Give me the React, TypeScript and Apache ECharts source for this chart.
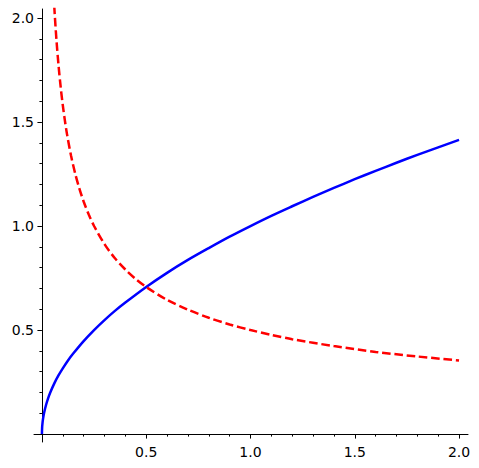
import React, { useEffect, useRef } from "react";
import * as echarts from "echarts";

// Blue solid curve
const blueX = [0, 0.001, 0.003, 0.005, 0.01, 0.02, 0.03, 0.04, 0.06, 0.08, 0.1, 0.125, 0.15, 0.2, 0.25, 0.3, 0.35, 0.4, 0.5, 0.6, 0.7, 0.8, 0.9, 1.0, 1.1, 1.2, 1.3, 1.4, 1.5, 1.6, 1.7, 1.8, 1.9, 2.0];
const blueY = [0, 0.032, 0.055, 0.071, 0.1, 0.141, 0.173, 0.2, 0.245, 0.283, 0.316, 0.354, 0.387, 0.447, 0.5, 0.548, 0.592, 0.632, 0.707, 0.775, 0.837, 0.894, 0.949, 1.0, 1.049, 1.095, 1.14, 1.183, 1.225, 1.265, 1.304, 1.342, 1.378, 1.414];

// Red dashed curve
const redX = [0.05, 0.06, 0.07, 0.08, 0.09, 0.1, 0.11, 0.12, 0.14, 0.16, 0.18, 0.2, 0.225, 0.25, 0.3, 0.35, 0.4, 0.45, 0.5, 0.6, 0.7, 0.8, 0.9, 1.0, 1.1, 1.2, 1.4, 1.6, 1.8, 2.0];
const redY = [2.236, 2.041, 1.89, 1.768, 1.667, 1.581, 1.508, 1.443, 1.336, 1.25, 1.179, 1.118, 1.054, 1.0, 0.913, 0.845, 0.791, 0.745, 0.707, 0.645, 0.598, 0.559, 0.527, 0.5, 0.477, 0.456, 0.423, 0.395, 0.373, 0.354];

// Ticks
const majorTicks = [0, 0.5, 1.0, 1.5, 2.0];
const tickLabels = [0.5, 1.0, 1.5, 2.0];
const minorTicks = [0.1, 0.2, 0.3, 0.4, 0.6, 0.7, 0.8, 0.9, 1.1, 1.2, 1.3, 1.4, 1.6, 1.7, 1.8, 1.9];

const AX_MIN = -0.038;
const AX_MAX = 2.043;

const FONT = "DejaVu Sans";

function makeAxis(kind: "x" | "y", minor: boolean) {
  return {
    type: "value",
    min: AX_MIN,
    max: AX_MAX,
    position: kind === "x" ? "bottom" : "left",
    axisLine: {
      show: !minor,
      onZero: true,
      lineStyle: { color: "#000", width: 1 },
    },
    axisTick: {
      show: true,
      customValues: minor ? minorTicks : majorTicks,
      length: minor ? 2.5 : 4.5,
      lineStyle: { color: "#000", width: 1 },
    },
    axisLabel: {
      show: !minor,
      customValues: tickLabels,
      formatter: (v: number) => v.toFixed(1),
      color: "#000",
      fontFamily: FONT,
      fontWeight: "normal",
      fontSize: 14,
      margin: kind === "x" ? 3 : 0,
    },
    splitLine: { show: false },
    minorTick: { show: false },
  };
}

export default function App() {
  const ref = useRef<HTMLDivElement>(null);
  useEffect(() => {
    document.body.style.margin = "0";
    const chart = echarts.init(ref.current!, null, { renderer: "svg" });
    chart.setOption({
      animation: false,
      backgroundColor: "#fff",
      grid: { left: 34, right: 11, top: 9, bottom: 26, containLabel: false, outerBoundsMode: "none" },
      xAxis: [makeAxis("x", false), makeAxis("x", true)],
      yAxis: [makeAxis("y", false), makeAxis("y", true)],
      series: [
        {
          type: "line",
          data: blueX.map((x, i) => [x, blueY[i]]),
          showSymbol: false,
          symbol: "none",
          smooth: 0.3,
          lineStyle: { color: "#0000ff", width: 2.5 },
          clip: true,
        },
        {
          type: "line",
          data: redX.map((x, i) => [x, redY[i]]),
          showSymbol: false,
          symbol: "none",
          smooth: 0.3,
          lineStyle: { color: "#ff0000", width: 2.5, type: [8.5, 3.8] },
          clip: true,
        },
      ],
    });
    return () => chart.dispose();
  }, []);
  return <div ref={ref} style={{ width: 479, height: 468 }} />;
}
